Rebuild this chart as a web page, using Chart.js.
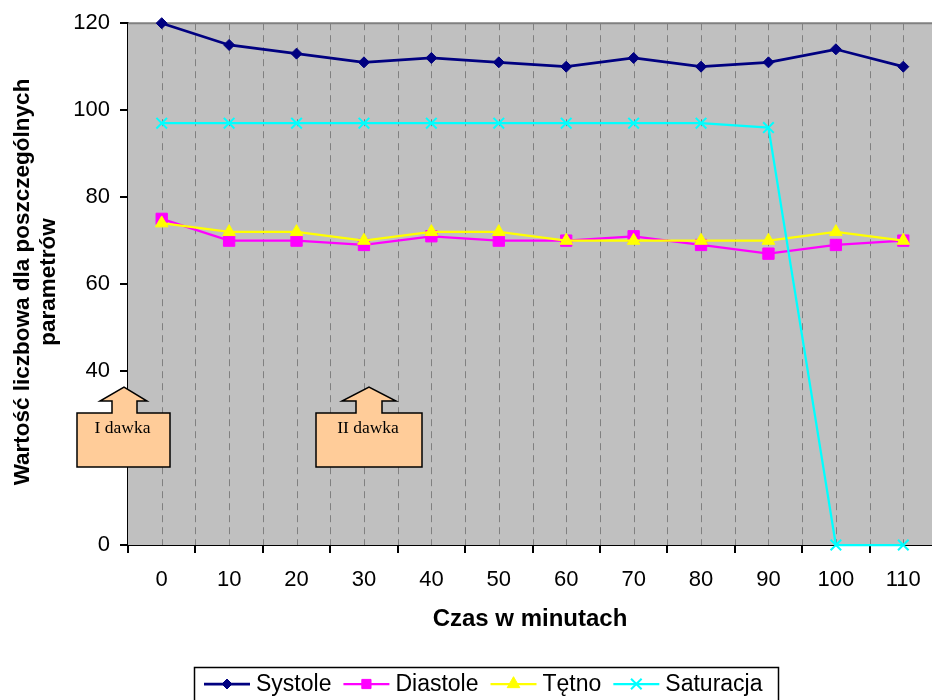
<!DOCTYPE html>
<html lang="pl">
<head>
<meta charset="utf-8">
<title>Parametry w czasie</title>
<script src="https://cdn.jsdelivr.net/npm/chart.js@4/dist/chart.umd.min.js"></script>
<style>
  html, body { margin: 0; padding: 0; background: #ffffff; overflow: hidden; }
  #wrap { width: 932px; height: 700px; overflow: hidden; }
  canvas { display: block; }
</style>
</head>
<body>
<div id="wrap"><canvas id="chart" width="937" height="700"></canvas></div>
<script>
// Minutes of observation (category axis)
const minutes = ['0', '10', '20', '30', '40', '50', '60', '70', '80', '90', '100', '110'];

// Measured parameters
const systole   = [120, 115, 113, 111, 112, 111, 110, 112, 110, 111, 114, 110];
const diastole  = [75, 70, 70, 69, 71, 70, 70, 71, 69, 67, 69, 70];
const tetno     = [74, 72, 72, 70, 72, 72, 70, 70, 70, 70, 72, 70];
const saturacja = [97, 97, 97, 97, 97, 97, 97, 97, 97, 96, 0, 0];

// Value axis range
const yMin = 0;
const yMax = 120;
const yStep = 20;

// Titles
const xTitle = 'Czas w minutach';
const yTitleLines = ['Wartość liczbowa dla poszczególnych', 'parametrów'];

// Dose markers (arrow callouts)
const callouts = [
  { text: 'I dawka',  box: [77, 413, 170, 467], shaft: [112, 137], head: [100, 147], shoulder: 401, tip: [124, 387] },
  { text: 'II dawka', box: [316, 413, 422, 467], shaft: [356, 382], head: [342, 396], shoulder: 401, tip: [369, 387] }
];

const SANS = '"Liberation Sans", Arial, Helvetica, sans-serif';
const SERIF = '"Liberation Serif", "Times New Roman", serif';

const seriesStyle = [
  { label: 'Systole',   data: systole,   color: '#000080', point: 'rectRot',  radius: 5.5, width: 2.75, order: 4 },
  { label: 'Diastole',  data: diastole,  color: '#FF00FF', point: 'rect',     radius: 8,   width: 2.25, order: 3 },
  { label: 'Tętno',     data: tetno,     color: '#FFFF00', point: 'triangle', radius: 7.3, width: 2.25, order: 2 },
  { label: 'Saturacja', data: saturacja, color: '#00FFFF', point: 'crossRot', radius: 7.5, width: 2.25, order: 1 }
];

const datasets = seriesStyle.map(s => ({
  label: s.label,
  data: s.data,
  borderColor: s.color,
  backgroundColor: s.color,
  borderWidth: s.width,
  pointStyle: s.point,
  pointRadius: s.radius,
  pointHoverRadius: s.radius,
  pointBackgroundColor: s.color,
  pointBorderColor: s.color,
  pointBorderWidth: s.point === 'crossRot' ? 2 : 1,
  tension: 0,
  clip: false,
  order: s.order
}));

// Grey plot area, dashed vertical guides and the top border
const plotArea = {
  id: 'plotArea',
  beforeDatasetsDraw(chart) {
    const { ctx, chartArea: a, scales: { x } } = chart;
    ctx.save();
    ctx.fillStyle = '#C0C0C0';
    ctx.fillRect(a.left, a.top, a.right - a.left, a.bottom - a.top);

    const half = (x.getPixelForValue(1) - x.getPixelForValue(0)) / 2;
    ctx.strokeStyle = '#808080';
    ctx.lineWidth = 1;
    ctx.setLineDash([7, 5]);
    for (let i = 0; i < minutes.length; i++) {
      const c = x.getPixelForValue(i);
      [c, c + half].forEach(px => {
        const p = Math.round(px) + 0.5;
        if (p <= a.left + 1 || p >= a.right) return;
        ctx.beginPath();
        ctx.moveTo(p, a.top);
        ctx.lineTo(p, a.bottom);
        ctx.stroke();
      });
    }
    ctx.setLineDash([]);
    ctx.strokeStyle = '#808080';
    ctx.lineWidth = 2;
    ctx.beginPath();
    ctx.moveTo(a.left, a.top);
    ctx.lineTo(a.right, a.top);
    ctx.stroke();
    ctx.restore();
  }
};

function drawMarker(ctx, style, x, y, r, color) {
  ctx.save();
  ctx.fillStyle = color;
  ctx.strokeStyle = color;
  ctx.lineWidth = 1;
  ctx.beginPath();
  if (style === 'rectRot') {
    ctx.moveTo(x, y - r); ctx.lineTo(x + r, y); ctx.lineTo(x, y + r); ctx.lineTo(x - r, y);
    ctx.closePath(); ctx.fill(); ctx.stroke();
  } else if (style === 'rect') {
    const h = r * Math.SQRT1_2;
    ctx.rect(x - h, y - h, 2 * h, 2 * h); ctx.fill(); ctx.stroke();
  } else if (style === 'triangle') {
    ctx.moveTo(x, y - r);
    ctx.lineTo(x + r * Math.sin(2 * Math.PI / 3), y + r / 2);
    ctx.lineTo(x - r * Math.sin(2 * Math.PI / 3), y + r / 2);
    ctx.closePath(); ctx.fill(); ctx.stroke();
  } else {
    const d = r * Math.SQRT1_2;
    ctx.lineWidth = 2;
    ctx.moveTo(x - d, y - d); ctx.lineTo(x + d, y + d);
    ctx.moveTo(x + d, y - d); ctx.lineTo(x - d, y + d);
    ctx.stroke();
  }
  ctx.restore();
}

// Titles, legend box and dose callouts
const decorations = {
  id: 'decorations',
  afterDraw(chart) {
    const { ctx, chartArea: a } = chart;
    ctx.save();

    // x-axis title
    ctx.fillStyle = '#000';
    ctx.font = 'bold 24px ' + SANS;
    ctx.textAlign = 'center';
    ctx.textBaseline = 'alphabetic';
    ctx.fillText(xTitle, (a.left + 932) / 2, 626);

    // y-axis title, two lines rotated
    ctx.save();
    ctx.font = 'bold 22.5px ' + SANS;
    ctx.translate(0, 282);
    ctx.rotate(-Math.PI / 2);
    ctx.fillText(yTitleLines[0], 0, 28.5);
    ctx.fillText(yTitleLines[1], 0, 55);
    ctx.restore();

    // legend
    const legY = 684;
    ctx.lineWidth = 1.5;
    ctx.strokeStyle = '#000';
    ctx.fillStyle = '#fff';
    ctx.beginPath();
    ctx.rect(194.5, 667.5, 584, 40);
    ctx.fill();
    ctx.stroke();
    ctx.font = '23px ' + SANS;
    ctx.textAlign = 'left';
    ctx.textBaseline = 'middle';
    let lx = 204;
    chart.data.datasets.forEach((ds, i) => {
      const st = seriesStyle[i];
      ctx.strokeStyle = ds.borderColor;
      ctx.lineWidth = ds.borderWidth;
      ctx.beginPath();
      ctx.moveTo(lx, legY);
      ctx.lineTo(lx + 46, legY);
      ctx.stroke();
      const legR = st.point === 'rect' ? 6.5 : st.point === 'rectRot' ? 5 : st.radius;
      drawMarker(ctx, st.point, lx + 23, legY, legR, ds.borderColor);
      ctx.fillStyle = '#000';
      ctx.fillText(ds.label, lx + 52, legY + 1);
      lx += 52 + ctx.measureText(ds.label).width + 12;
    });

    // dose callouts
    callouts.forEach(c => {
      const [x0, y0, x1, y1] = c.box;
      ctx.beginPath();
      ctx.moveTo(x0, y1);
      ctx.lineTo(x0, y0);
      ctx.lineTo(c.shaft[0], y0);
      ctx.lineTo(c.shaft[0], c.shoulder);
      ctx.lineTo(c.head[0], c.shoulder);
      ctx.lineTo(c.tip[0], c.tip[1]);
      ctx.lineTo(c.head[1], c.shoulder);
      ctx.lineTo(c.shaft[1], c.shoulder);
      ctx.lineTo(c.shaft[1], y0);
      ctx.lineTo(x1, y0);
      ctx.lineTo(x1, y1);
      ctx.closePath();
      ctx.fillStyle = '#FFCC99';
      ctx.fill();
      ctx.strokeStyle = '#000';
      ctx.lineWidth = 1.5;
      ctx.stroke();
      ctx.fillStyle = '#000';
      ctx.font = '17.5px ' + SERIF;
      ctx.textAlign = 'center';
      ctx.textBaseline = 'middle';
      ctx.fillText(c.text, (x0 + x1) / 2 - 1, 428);
    });

    ctx.restore();
  }
};

new Chart(document.getElementById('chart'), {
  type: 'line',
  data: { labels: minutes, datasets },
  options: {
    responsive: false,
    animation: false,
    devicePixelRatio: 1,
    layout: { autoPadding: false, padding: { top: 22, left: 0, right: 0, bottom: 0 } },
    plugins: {
      legend: { display: false },
      title: { display: false },
      tooltip: { enabled: false }
    },
    scales: {
      x: {
        type: 'category',
        offset: true,
        grid: { offset: true, drawOnChartArea: false, drawTicks: true, tickLength: 8, color: '#000', lineWidth: 2 },
        border: { display: true, color: '#000', width: 2 },
        ticks: { color: '#000', font: { family: SANS, size: 22 }, padding: 14, maxRotation: 0, autoSkip: false },
        afterFit(scale) { scale.height = 155; }
      },
      y: {
        min: yMin,
        max: yMax,
        grid: { drawOnChartArea: false, drawTicks: true, tickLength: 8, color: '#000', lineWidth: 2 },
        border: { display: true, color: '#000', width: 2 },
        ticks: { stepSize: yStep, color: '#000', font: { family: SANS, size: 22 }, padding: 10 },
        afterFit(scale) { scale.width = 128; }
      }
    }
  },
  plugins: [plotArea, decorations]
});
</script>
</body>
</html>
